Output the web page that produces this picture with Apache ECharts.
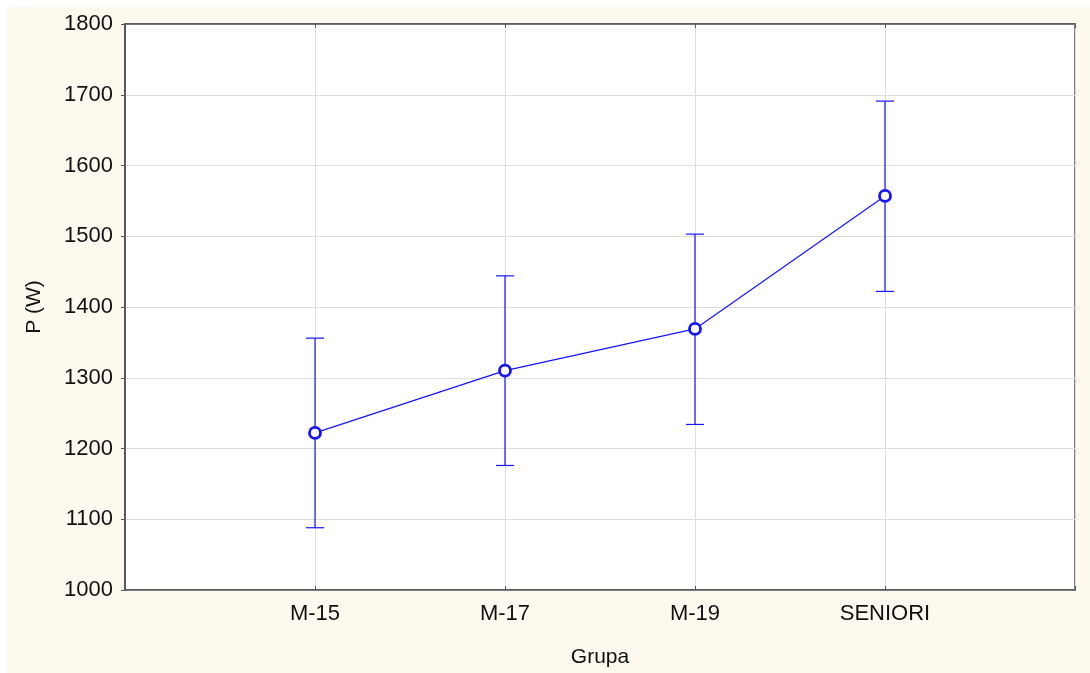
<!DOCTYPE html>
<html lang="pl">
<head>
    <meta charset="UTF-8">
    <title>P (W) - Grupa</title>
    <script src="https://cdn.jsdelivr.net/npm/echarts@6/dist/echarts.min.js"></script>
    <style>
        body { margin: 0; background: #ffffff; }
        #main {
            position: absolute;
            left: 6px;
            top: 7px;
            width: 1084px;
            height: 666px;
            background: #fef9ee;
        }
    </style>
</head>
<body>
<div id="main"></div>

<script type="text/javascript">
    // dane
    var groups = ['M-15', 'M-17', 'M-19', 'SENIORI'];
    var means = [1222, 1310, 1369, 1557];
    var upper = [1356, 1444, 1503, 1691];
    var lower = [1088, 1176, 1234, 1422];
    var yTicks = [1000, 1100, 1200, 1300, 1400, 1500, 1600, 1700, 1800];

    var blue = '#1414ff';
    var frame = '#555555';
    var font = 'Liberation Sans, Arial, sans-serif';

    // pozycje na osi x: 1..4 (oś od 0 do 5)
    var meanData = means.map(function (v, i) { return [i + 1, v]; });
    var errData = means.map(function (v, i) { return [i + 1, lower[i], upper[i]]; });

    var myChart = echarts.init(document.getElementById('main'));

    var option = {
        backgroundColor: 'transparent',
        animation: false,
        grid: {
            left: 119,
            top: 17,
            width: 950,
            height: 566,
            show: true,
            backgroundColor: '#ffffff',
            borderColor: frame,
            borderWidth: 1.5
        },
        xAxis: [
            {
                type: 'value',
                min: 0,
                max: 5,
                interval: 1,
                name: 'Grupa',
                nameLocation: 'middle',
                nameGap: 57,
                nameTextStyle: { color: '#111', fontSize: 21, fontFamily: font },
                axisLine: { show: true, onZero: false, lineStyle: { color: frame, width: 1.5 } },
                axisTick: { show: true, inside: true, length: 4, lineStyle: { color: frame } },
                axisLabel: {
                    color: '#111',
                    fontSize: 22,
                    fontFamily: font,
                    margin: 13,
                    formatter: function (v) { return groups[v - 1] || ''; }
                },
                splitLine: { show: true, lineStyle: { color: '#dddddd', width: 1 } }
            },
            {
                type: 'value',
                position: 'top',
                min: 0,
                max: 5,
                interval: 1,
                axisLine: { show: true, lineStyle: { color: frame, width: 1.5 } },
                axisTick: { show: true, inside: true, length: 4, lineStyle: { color: frame } },
                axisLabel: { show: false },
                splitLine: { show: false }
            }
        ],
        yAxis: [
            {
                type: 'value',
                min: yTicks[0],
                max: yTicks[yTicks.length - 1],
                interval: 100,
                name: 'P (W)',
                nameLocation: 'middle',
                nameGap: 80,
                nameTextStyle: { color: '#111', fontSize: 21, fontFamily: font },
                axisLine: { show: true, lineStyle: { color: frame, width: 1.5 } },
                axisTick: { show: true, length: 4, lineStyle: { color: frame } },
                axisLabel: {
                    color: '#111',
                    fontSize: 22,
                    fontFamily: font,
                    margin: 12,
                    formatter: function (v) { return String(v); }
                },
                splitLine: { show: true, lineStyle: { color: '#dddddd', width: 1 } }
            },
            {
                type: 'value',
                position: 'right',
                min: yTicks[0],
                max: yTicks[yTicks.length - 1],
                interval: 100,
                axisLine: { show: true, lineStyle: { color: frame, width: 1.5 } },
                axisTick: { show: true, inside: true, length: 4, lineStyle: { color: frame } },
                axisLabel: { show: false },
                splitLine: { show: false }
            }
        ],
        series: [
            {
                name: 'przedzial',
                type: 'custom',
                xAxisIndex: 0,
                yAxisIndex: 0,
                data: errData,
                z: 2,
                renderItem: function (params, api) {
                    var x = api.value(0);
                    var lo = api.coord([x, api.value(1)]);
                    var hi = api.coord([x, api.value(2)]);
                    var half = 9;
                    var style = { stroke: blue, lineWidth: 1.2 };
                    return {
                        type: 'group',
                        children: [
                            { type: 'line', shape: { x1: hi[0], y1: hi[1], x2: lo[0], y2: lo[1] }, style: style },
                            { type: 'line', shape: { x1: hi[0] - half, y1: hi[1], x2: hi[0] + half, y2: hi[1] }, style: style },
                            { type: 'line', shape: { x1: lo[0] - half, y1: lo[1], x2: lo[0] + half, y2: lo[1] }, style: style }
                        ]
                    };
                }
            },
            {
                name: 'srednia',
                type: 'line',
                data: meanData,
                z: 3,
                symbol: 'circle',
                symbolSize: 11,
                lineStyle: { color: blue, width: 1.2 },
                itemStyle: { color: '#ffffff', borderColor: blue, borderWidth: 2.8 }
            }
        ]
    };

    myChart.setOption(option);
</script>
</body>
</html>
